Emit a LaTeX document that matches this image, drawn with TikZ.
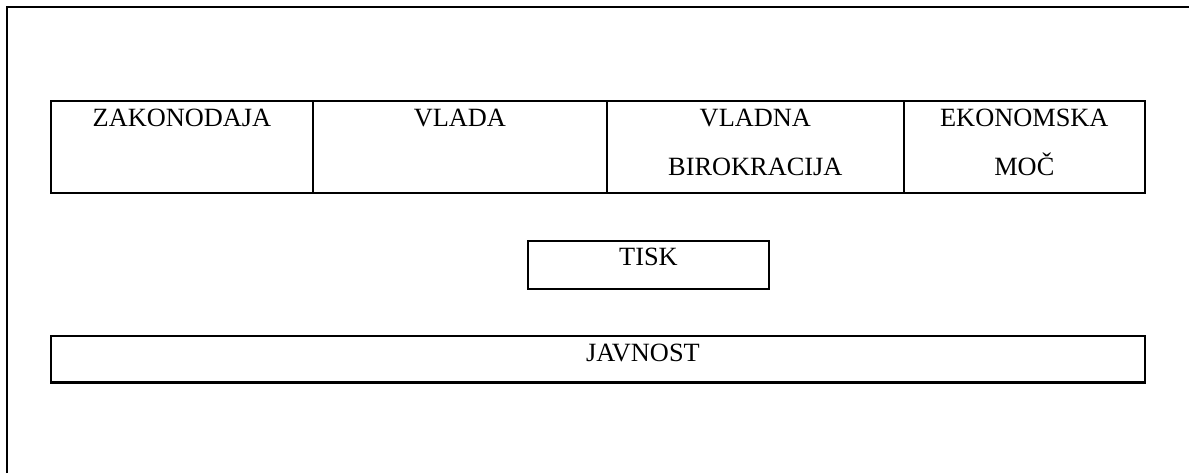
\documentclass[tikz,border=0pt]{standalone}
\usepackage{fontspec}
\setmainfont{Liberation Serif}
\usetikzlibrary{positioning}
\tikzset{
  box/.style={draw, line width=1.3pt, inner sep=0pt, outer sep=0pt, anchor=north west, minimum height=1.84cm},
  lbl/.style={anchor=north, inner sep=0pt, align=center, yshift=-0.155cm,
    font=\fontsize{15}{27.8}\selectfont},
  frame/.style={line width=1.3pt}
}
\begin{document}
\begin{tikzpicture}[x=0.02cm, y=-0.02cm]
  \useasboundingbox (0,0) rectangle (1189,473);
  \draw[frame] (7,473) -- (7,6.7) -- (1189,6.7);
  % top row
  \node[box, minimum width=5.24cm] (zak) at (51,100.7) {};
  \node[box, minimum width=5.88cm] (vlada) at (zak.north east) {};
  \node[box, minimum width=5.94cm] (birokr) at (vlada.north east) {};
  \node[box, minimum width=4.82cm] (ekon) at (birokr.north east) {};
  \node[lbl] at (zak.north) {ZAKONODAJA};
  \node[lbl] at (vlada.north) {VLADA};
  \node[lbl] at (birokr.north) {VLADNA\\BIROKRACIJA};
  \node[lbl] at (ekon.north) {EKONOMSKA\\MOČ};
  % tisk, javnost
  \node[box, minimum width=4.82cm, minimum height=0.96cm] (tisk) at (528,241) {};
  \node[lbl, yshift=0.03cm] at (tisk.north) {TISK};
  \node[box, minimum width=21.88cm, minimum height=0.93cm] (javnost) at (51,336) {};
  \node[lbl, xshift=0.9cm, yshift=0.01cm] at (javnost.north) {JAVNOST};
\end{tikzpicture}
\end{document}
